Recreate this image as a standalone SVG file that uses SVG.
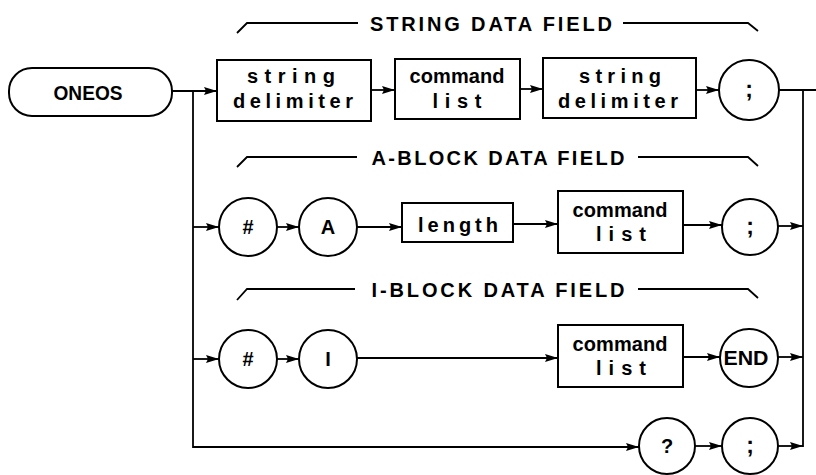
<svg xmlns="http://www.w3.org/2000/svg" width="816" height="475" viewBox="0 0 816 475">
<style>
.s{fill:none;stroke:#000;stroke-width:2}
.c{fill:none;stroke:#000;stroke-width:1.8}
.t{font-family:"Liberation Sans",Arial,sans-serif;font-weight:bold;fill:#000;text-anchor:middle}
.ti{font-size:20px}
.bx{font-size:20px}
.ci{font-size:20px}
.sc{font-size:23px}
</style>
<defs>
<marker id="ah" markerUnits="userSpaceOnUse" markerWidth="14" markerHeight="10" refX="13" refY="5" orient="auto">
<path d="M0,1 L13,5 L0,9 L2,5 z" fill="#000"/>
</marker>
</defs>
<rect width="816" height="475" fill="#fff"/>

<g id="titles">
<path class="c" d="M237,33 L247,23 L358,23"/>
<text class="t ti" x="491" y="31" textLength="242" lengthAdjust="spacing">STRING DATA FIELD</text>
<path class="c" d="M623,23 L748,23 L758,31"/>
<path class="c" d="M237,167 L247,157 L357,157"/>
<text class="t ti" x="498" y="165" textLength="253" lengthAdjust="spacing">A-BLOCK DATA FIELD</text>
<path class="c" d="M638,157 L748,157 L758,166"/>
<path class="c" d="M237,300 L247,289 L355,289"/>
<text class="t ti" x="498" y="297" textLength="253" lengthAdjust="spacing">I-BLOCK DATA FIELD</text>
<path class="c" d="M638,289 L748,289 L758,298"/>
</g>

<g id="oneos">
<rect class="s" x="9" y="68" width="163" height="48" rx="23" ry="23"/>
<text class="t" style="font-size:21px" x="88" y="100" textLength="69" lengthAdjust="spacingAndGlyphs">ONEOS</text>
</g>

<g id="sdelim1">
<rect class="s" x="217" y="60" width="154" height="61"/>
<text class="t bx" x="291" y="83" textLength="88" lengthAdjust="spacing">string</text>
<text class="t bx" x="293" y="108" textLength="120" lengthAdjust="spacing">delimiter</text>
</g>
<g id="cmdlist1">
<rect class="s" x="395" y="59" width="125" height="60"/>
<text class="t bx" x="457" y="83" textLength="95" lengthAdjust="spacing">command</text>
<text class="t bx" x="457" y="108" textLength="49" lengthAdjust="spacing">list</text>
</g>
<g id="sdelim2">
<rect class="s" x="543" y="58" width="153" height="60"/>
<text class="t bx" x="620" y="83" textLength="82" lengthAdjust="spacing">string</text>
<text class="t bx" x="618" y="108" textLength="120" lengthAdjust="spacing">delimiter</text>
</g>
<g id="semi1">
<circle class="s" cx="749" cy="90" r="30"/>
<text class="t sc" x="749" y="97">;</text>
</g>

<g id="hashA">
<circle class="s" cx="248" cy="227" r="29"/>
<text class="t ci" x="248" y="234">#</text>
</g>
<g id="A">
<circle class="s" cx="328" cy="227" r="29"/>
<text class="t ci" x="328" y="234">A</text>
</g>
<g id="length">
<rect class="s" x="402" y="203" width="111" height="39"/>
<text class="t bx" x="458" y="232" textLength="80" lengthAdjust="spacing">length</text>
</g>
<g id="cmdlist2">
<rect class="s" x="558" y="191" width="125" height="62"/>
<text class="t bx" x="620" y="217" textLength="95" lengthAdjust="spacing">command</text>
<text class="t bx" x="621" y="241" textLength="50" lengthAdjust="spacing">list</text>
</g>
<g id="semi2">
<circle class="s" cx="750" cy="227" r="28"/>
<text class="t sc" x="750" y="234">;</text>
</g>

<g id="hashI">
<circle class="s" cx="248" cy="359" r="29"/>
<text class="t ci" x="248" y="366">#</text>
</g>
<g id="I">
<circle class="s" cx="328" cy="359" r="29"/>
<text class="t ci" x="328" y="366">I</text>
</g>
<g id="cmdlist3">
<rect class="s" x="558" y="325" width="125" height="62"/>
<text class="t bx" x="620" y="351" textLength="95" lengthAdjust="spacing">command</text>
<text class="t bx" x="621" y="375" textLength="50" lengthAdjust="spacing">list</text>
</g>
<g id="END">
<circle class="s" cx="749" cy="358" r="29"/>
<text class="t ci" x="746" y="365" textLength="45" lengthAdjust="spacingAndGlyphs">END</text>
</g>

<g id="query">
<circle class="s" cx="667" cy="446" r="28"/>
<text class="t ci" x="667" y="453">?</text>
</g>
<g id="semi4">
<circle class="s" cx="750" cy="446" r="28"/>
<text class="t sc" x="750" y="453">;</text>
</g>

<g id="connectors">
<line class="c" x1="172" y1="91" x2="217" y2="91" marker-end="url(#ah)"/>
<line class="c" x1="371" y1="90" x2="395" y2="90" marker-end="url(#ah)"/>
<line class="c" x1="520" y1="89" x2="543" y2="89" marker-end="url(#ah)"/>
<line class="c" x1="696" y1="90" x2="719" y2="90" marker-end="url(#ah)"/>
<line class="c" x1="779" y1="90" x2="816" y2="90"/>
<line class="c" x1="803" y1="90" x2="803" y2="447"/>
<line class="c" x1="193" y1="91" x2="193" y2="448"/>

<line class="c" x1="193" y1="227" x2="219" y2="227" marker-end="url(#ah)"/>
<line class="c" x1="277" y1="227" x2="299" y2="227" marker-end="url(#ah)"/>
<line class="c" x1="357" y1="227" x2="402" y2="227" marker-end="url(#ah)"/>
<line class="c" x1="513" y1="224" x2="558" y2="224" marker-end="url(#ah)"/>
<line class="c" x1="683" y1="225" x2="722" y2="225" marker-end="url(#ah)"/>
<line class="c" x1="778" y1="226" x2="803" y2="226" marker-end="url(#ah)"/>

<line class="c" x1="193" y1="359" x2="219" y2="359" marker-end="url(#ah)"/>
<line class="c" x1="277" y1="359" x2="299" y2="359" marker-end="url(#ah)"/>
<line class="c" x1="357" y1="358" x2="558" y2="358" marker-end="url(#ah)"/>
<line class="c" x1="683" y1="357" x2="720" y2="357" marker-end="url(#ah)"/>
<line class="c" x1="778" y1="357" x2="803" y2="357" marker-end="url(#ah)"/>

<line class="c" x1="193" y1="447" x2="639" y2="447" marker-end="url(#ah)"/>
<line class="c" x1="695" y1="446" x2="722" y2="446" marker-end="url(#ah)"/>
<line class="c" x1="778" y1="446" x2="803" y2="446" marker-end="url(#ah)"/>
</g>
</svg>
